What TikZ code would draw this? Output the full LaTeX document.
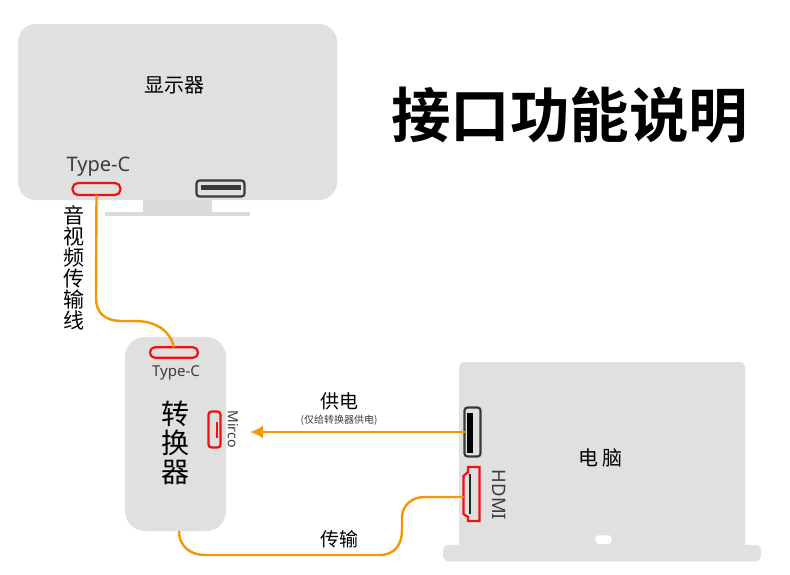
\documentclass[tikz,border=0pt]{standalone}
\usepackage{fontspec}
\setmainfont{Noto Sans}
\newfontfamily\cjk{Noto Sans CJK SC}
\newfontfamily\cjkb{Noto Sans CJK SC Bold}
\usetikzlibrary{arrows.meta}
\definecolor{panel}{HTML}{E0E0E0}
\definecolor{standc}{HTML}{DADADA}
\definecolor{wire}{HTML}{F39800}
\definecolor{portred}{HTML}{F01010}
\definecolor{portdark}{HTML}{3A3A3A}
\definecolor{labelc}{HTML}{3C3C3C}
\tikzset{
 panelbox/.style={fill=panel,draw=none,inner sep=0pt,outer sep=0pt,rounded corners=#1},
 portbox/.style={draw=#1,line width=2.2pt,fill=panel,inner sep=0pt,outer sep=0pt},
 wireline/.style={draw=wire,line width=2.4pt},
 txt/.style={inner sep=0pt,outer sep=0pt,align=center},
 bar/.style={fill=#1,draw=none,inner sep=0pt,outer sep=0pt},
}
\newcommand{\fs}[1]{\fontsize{#1}{#1}\selectfont}
\begin{document}
\begin{tikzpicture}[x=1pt,y=-1pt]
\useasboundingbox (0,0) rectangle (790,574);
\fill[white] (0,0) rectangle (790,574);
% monitor
\node[panelbox=18pt,minimum width=319pt,minimum height=176pt] (monitor) at (177.5,112) {};
\node[bar=standc,minimum width=69pt,minimum height=12pt] (stand) at (177.5,206) {};
\node[bar=standc,minimum width=145pt,minimum height=4.5pt] (base) at (177.5,214) {};
\node[txt,font=\cjk\fs{20}] (montitle) at (174.5,85) {显示器};
\node[txt,font=\fs{20},text=labelc] (montclabel) at (98.5,167) {Type-C};
\node[portbox=portred,rounded corners=5.5pt,minimum width=48pt,minimum height=12pt] (montc) at (96.5,189) {};
\node[portbox=portdark,rounded corners=3pt,minimum width=48pt,minimum height=16pt] (monusb) at (220.5,188.5) {};
\node[bar=portdark,minimum width=40pt,minimum height=5pt] (monusbbar) at (220.5,187) {};
% title
\node[txt,font=\cjkb\fs{59.5}] (title) at (569.5,115) {接口功能说明};
% vertical label
\node[txt,font=\cjk\fs{21},text width=24pt] (avlabel) at (74,268) {\baselineskip=20.9pt 音\\视\\频\\传\\输\\线};
% converter
\node[panelbox=20pt,minimum width=101pt,minimum height=194pt] (conv) at (175.5,434) {};
\node[portbox=portred,rounded corners=5pt,minimum width=48pt,minimum height=10.5pt] (convtc) at (174,352.5) {};
\node[txt,font=\fs{15},text=labelc] (convtclabel) at (176,372.5) {Type-C};
\node[txt,font=\cjk\fs{28}] (convt1) at (175,414) {转};
\node[txt,font=\cjk\fs{28}] (convt2) at (175,443) {换};
\node[txt,font=\cjk\fs{28}] (convt3) at (175,472) {器};
\node[portbox=portred,rounded corners=3pt,minimum width=12pt,minimum height=36pt] (micro) at (214.5,429.5) {};
\node[bar=portred,minimum width=2pt,minimum height=16pt] (microbar) at (216.5,429.5) {};
\node[txt,font=\fs{14},text=labelc,rotate=-90] (microlabel) at (233,429) {Mirco};
% laptop
\path[fill=panel,rounded corners=5pt] (459,560) -- (459,362) -- (745,362) -- (745,560) -- cycle;
\node[panelbox=6pt,minimum width=318pt,minimum height=16.5pt] (lapbase) at (602,553) {};
\node[fill=white,rounded corners=3pt,inner sep=0pt,minimum width=16pt,minimum height=8.5pt] (notch) at (603.5,539.5) {};
\node[txt,font=\cjk\fs{20}] (laplabel) at (600,458) {电\hspace{4pt}脑};
\node[portbox=portdark,rounded corners=3pt,minimum width=16pt,minimum height=49pt] (lapusb) at (472.5,432) {};
\node[bar=black,minimum width=6pt,minimum height=40pt] (lapusbbar) at (470,433) {};
\coordinate (hdmi) at (463.5,497);
\draw[portred,line width=2.2pt,fill=panel] (479.5,467) -- (468,467) -- (468,472) -- (463.5,476) -- (463.5,514) -- (468,517) -- (468,521) -- (479.5,521) -- cycle;
\node[bar=black!85,minimum width=2.6pt,minimum height=40pt] (hdmibar) at (470,494) {};
\node[txt,font=\fs{18.5},text=labelc,rotate=-90] (hdmilabel) at (499,495) {HDMI};
% wire labels
\node[txt,font=\cjk\fs{19}] (powerlabel) at (339,401) {供电};
\node[txt,font=\cjk\fs{10},text=labelc] (powersub) at (339,420) {(仅给转换器供电)};
\node[txt,font=\cjk\fs{19}] (translabel) at (339,539) {传输};
% connectors
\coordinate (arrowtip) at (250,432);
\coordinate (convout) at (179,531);
\draw[wireline] (montc.south) -- (96,298) .. controls (96,313) and (105,321) .. (122,321) -- (135,321) .. controls (155,321) and (170,330) .. (convtc.north);
\draw[wireline,-{Latex[length=13pt,width=13pt]}] (lapusb.west) -- (arrowtip);
\draw[wireline] (convout) .. controls (179,546) and (190,555) .. (205,555) -- (380,555) .. controls (395,555) and (402,544) .. (402,530) -- (402,518) .. controls (402,505) and (412,497) .. (425,497) -- (hdmi);
\end{tikzpicture}
\end{document}
